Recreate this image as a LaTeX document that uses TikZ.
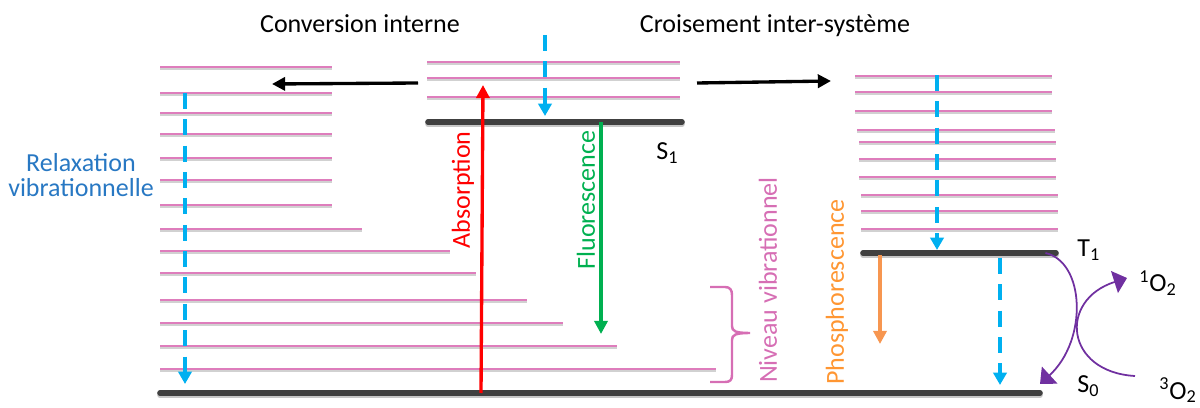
\documentclass[tikz,border=0pt]{standalone}
\usepackage{fontspec}
\setmainfont{Carlito}
\usepackage{tikz}
\definecolor{vibpink}{RGB}{222,125,188}
\definecolor{bracepink}{RGB}{214,110,180}
\definecolor{levelgray}{RGB}{64,64,64}
\definecolor{relaxblue}{RGB}{0,176,240}
\definecolor{textblue}{RGB}{40,120,195}
\definecolor{absred}{RGB}{255,0,0}
\definecolor{fluogreen}{RGB}{0,176,80}
\definecolor{phosorange}{RGB}{247,150,80}
\definecolor{phostext}{RGB}{255,150,50}
\definecolor{oxypurple}{RGB}{112,48,160}
\usetikzlibrary{arrows.meta}
\usetikzlibrary{positioning}
\tikzset{vib/.style={vibpink,line width=1.2pt}}
\tikzset{vibshade/.style={black!18,line width=1.2pt}}
\tikzset{level/.style={levelgray,line width=3.2pt,line cap=round}}
\tikzset{levelshade/.style={black!22,line width=3.2pt,line cap=round}}
\tikzset{line/.style={black,line width=1.9pt,-{Triangle[length=7.5pt,width=7.5pt]}}}
\tikzset{trans/.style={line width=1.9pt,-{Triangle[length=7.5pt,width=7.5pt]}}}
\tikzset{relax/.style={relaxblue,line width=1.9pt,dash pattern=on 9pt off 6pt,-{Triangle[length=7pt,width=7.5pt]}}}
\tikzset{oxy/.style={oxypurple,line width=1pt,-{Triangle[length=7.5pt,width=13pt]}}}
\tikzset{brace/.style={bracepink,line width=1.4pt}}
\tikzset{lbl/.style={font=\fontsize{14.8}{14.2}\selectfont,inner sep=0pt}}

\begin{document}
\begin{tikzpicture}[x=0.02cm,y=-0.02cm]
  \useasboundingbox (0,0) rectangle (1200,408);
  % Vibrational levels
  \foreach \y/\e in {67/332,93/332,113/332,134/332,158/332,180/332,205/332,229/362,251/450,273/476,300/527,323/563,346/617,369/716}
  {
    \draw[vibshade] (160,\y+2) -- (\e,\y+2);
    \draw[vib] (160,\y) -- (\e,\y);
  }
  \foreach \y in {62,78,97}
  {
    \draw[vibshade] (427,\y+2) -- (680,\y+2);
    \draw[vib] (427,\y) -- (680,\y);
  }
  \foreach \y/\s/\e in {76/855/1052,92/855/1052,111/855/1052,130/857/1055,142/859/1056,159/859/1056,177/859/1056,195/861/1058,211/861/1058,229/861/1058}
  {
    \draw[vibshade] (\s,\y+2) -- (\e,\y+2);
    \draw[vib] (\s,\y) -- (\e,\y);
  }

  % Electronic levels
  \coordinate (S0l) at (160,393);
  \coordinate (S0r) at (1040,393);
  \coordinate (S1l) at (428,122);
  \coordinate (S1r) at (682,122);
  \coordinate (T1l) at (863,253);
  \coordinate (T1r) at (1056,253);
  \draw[levelshade] ([yshift=-1.3pt]S0l) -- ([yshift=-1.3pt]S0r);
  \draw[levelshade] ([yshift=-1.3pt]S1l) -- ([yshift=-1.3pt]S1r);
  \draw[levelshade] ([yshift=-1.3pt]T1l) -- ([yshift=-1.3pt]T1r);
  \draw[level] (S0l) -- (S0r);
  \draw[level] (S1l) -- (S1r);
  \draw[level] (T1l) -- (T1r);

  \node[lbl,anchor=base west] (S1) at (656,160) {S\textsubscript{1}};
  \node[lbl,anchor=base west] (T1) at (1077,257) {T\textsubscript{1}};
  \node[lbl,anchor=base west] (S0) at (1077,393) {S\textsubscript{0}};

  % Titles
  \node[lbl,anchor=base] (ci) at (360,33) {Conversion interne};
  \node[lbl,anchor=base] (cis) at (775,33) {Croisement inter-système};
  \node[lbl,textblue,align=center] (rv) at (81,175) {Relaxation\\vibrationnelle};

  % Conversion / crossing
  \coordinate (ci0) at (418,83);
  \coordinate (ci1) at (272,84);
  \coordinate (cis0) at (697,83);
  \coordinate (cis1) at (831,81);
  \draw[line] (ci0) -- (ci1);
  \draw[line] (cis0) -- (cis1);

  % Relaxation
  \coordinate (r0) at (185,93);
  \coordinate (r1) at (185,384);
  \coordinate (r2) at (545,35);
  \coordinate (r3) at (545,116);
  \coordinate (r4) at (937,75);
  \coordinate (r5) at (937,250);
  \coordinate (r6) at (1000,258);
  \coordinate (r7) at (1000,385);
  \draw[relax] (r0) -- (r1);
  \draw[relax] (r2) -- (r3);
  \draw[relax] (r4) -- (r5);
  \draw[relax] (r6) -- (r7);

  % Radiative transitions
  \coordinate (a0) at (481,393);
  \coordinate (a1) at (483,85);
  \coordinate (f0) at (601,122);
  \coordinate (f1) at (601,334);
  \coordinate (p0) at (880,255);
  \coordinate (p1) at (880,344);
  \draw[trans,absred] (a0) -- (a1);
  \draw[trans,fluogreen] (f0) -- (f1);
  \draw[trans,phosorange] (p0) -- (p1);
  \node[lbl,absred,rotate=90] (abs) at (463,190) {Absorption};
  \node[lbl,fluogreen,rotate=90] (fluo) at (586,200) {Fluorescence};
  \node[lbl,phostext,rotate=90] (phos) at (837,292) {Phosphorescence};
  \node[lbl,bracepink,rotate=90] (niv) at (768,280) {Niveau vibrationnel};

  % Brace
  \draw[brace] (710,287) -- (725,287) .. controls (730,287) and (732,290) .. (732,295) -- (732,326)
    .. controls (732,331) and (735,333) .. (750,333) .. controls (735,333) and (732,335) .. (732,340)
    -- (732,375) .. controls (732,380) and (730,382) .. (725,382) -- (710,382);

  % Oxygen
  \coordinate (o1) at (1127,278);
  \coordinate (o3) at (1135,376);
  \coordinate (s0end) at (1040,384);
  \draw[oxy] ([xshift=-6pt]T1r) .. controls (1085,262) and (1088,340) .. (s0end);
  \draw[oxy] (o3) .. controls (1065,372) and (1058,300) .. (o1);
  \node[lbl,anchor=base west] (O1) at (1139,292) {\textsuperscript{1}O\textsubscript{2}};
  \node[lbl,anchor=base west] (O3) at (1159,399) {\textsuperscript{3}O\textsubscript{2}};
\end{tikzpicture}
\end{document}
